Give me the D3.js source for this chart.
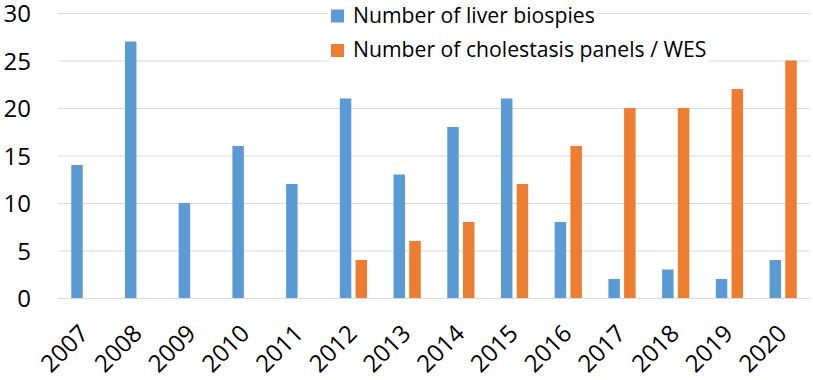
<!DOCTYPE html>
<html>
<head>
<meta charset="utf-8">
<script src="https://cdn.jsdelivr.net/npm/d3@7"></script>
<style>
  html, body { margin: 0; padding: 0; background: #fff; }
  svg { display: block; }
  text { font-family: "Open Sans", "Noto Sans", sans-serif; fill: #000; }
</style>
</head>
<body>
<svg id="chart" width="813" height="380"></svg>
<script>
const years = ["2007","2008","2009","2010","2011","2012","2013","2014","2015","2016","2017","2018","2019","2020"];
const liverBiopsies = [14, 27, 10, 16, 12, 21, 13, 18, 21, 8, 2, 3, 2, 4];
const cholestasisPanels = [0, 0, 0, 0, 0, 4, 6, 8, 12, 16, 20, 20, 22, 25];
const seriesNames = ["Number of liver biospies", "Number of cholestasis panels / WES"];
const seriesColors = ["#5B9BD5", "#ED7D31"];
const yTicks = [0, 5, 10, 15, 20, 25, 30];

const svg = d3.select("#chart");
const mLeft = 58, mRight = 810, mTop = 13, mBottom = 298;

const x0 = d3.scaleBand().domain(years).range([mLeft, mRight]).padding(0);
const bw = x0.bandwidth();
const x1 = d3.scaleBand().domain(seriesNames)
  .range([bw / 2 - 13.6, bw / 2 + 13.6]).paddingInner(0.27).paddingOuter(0);
const y = d3.scaleLinear().domain([0, 30]).range([mBottom, mTop]);

// gridlines
const yAxis = d3.axisLeft(y).tickValues(yTicks).tickSize(-(mRight - mLeft)).tickPadding(27);
const gy = svg.append("g").attr("transform", `translate(${mLeft},0)`).call(yAxis);
gy.select(".domain").remove();
gy.selectAll(".tick line").attr("stroke", "#d9d9d9").attr("stroke-width", 1);
gy.selectAll(".tick text").attr("font-size", "24px").attr("dy", "0.36em").attr("fill", "#000");

// bars
const data = years.map((yr, i) => ({ year: yr, values: [liverBiopsies[i], cholestasisPanels[i]] }));
const groups = svg.append("g").selectAll("g").data(data).join("g")
  .attr("transform", d => `translate(${x0(d.year)},0)`);
groups.selectAll("rect").data(d => d.values.map((v, k) => ({ k, v }))).join("rect")
  .attr("x", d => x1(seriesNames[d.k]))
  .attr("width", x1.bandwidth())
  .attr("y", d => y(d.v))
  .attr("height", d => y(0) - y(d.v))
  .attr("fill", d => seriesColors[d.k]);

// x axis labels
const xAxis = d3.axisBottom(x0).tickSize(0).tickPadding(0);
const gx = svg.append("g").attr("transform", `translate(0,${mBottom})`).call(xAxis);
gx.select(".domain").remove();
gx.selectAll(".tick text")
  .attr("font-size", "24px")
  .attr("fill", "#000")
  .attr("text-anchor", "end")
  .attr("dy", null)
  .attr("y", null)
  .attr("transform", "translate(5,37) rotate(-45)");

// legend
const legendRows = [22.5, 57];
const lg = svg.append("g");
seriesNames.forEach((name, i) => {
  const row = lg.append("g").attr("transform", `translate(331,${legendRows[i]})`);
  const bg = row.append("rect").attr("fill", "#fff").attr("x", -3).attr("y", -20).attr("height", 26);
  row.append("rect").attr("x", 0).attr("y", -13).attr("width", 13).attr("height", 13).attr("fill", seriesColors[i]);
  const t = row.append("text").attr("x", 22).attr("y", 0).attr("font-size", "21.2px").text(name);
  bg.attr("width", 22 + t.node().getComputedTextLength() + 5);
});
</script>
</body>
</html>
